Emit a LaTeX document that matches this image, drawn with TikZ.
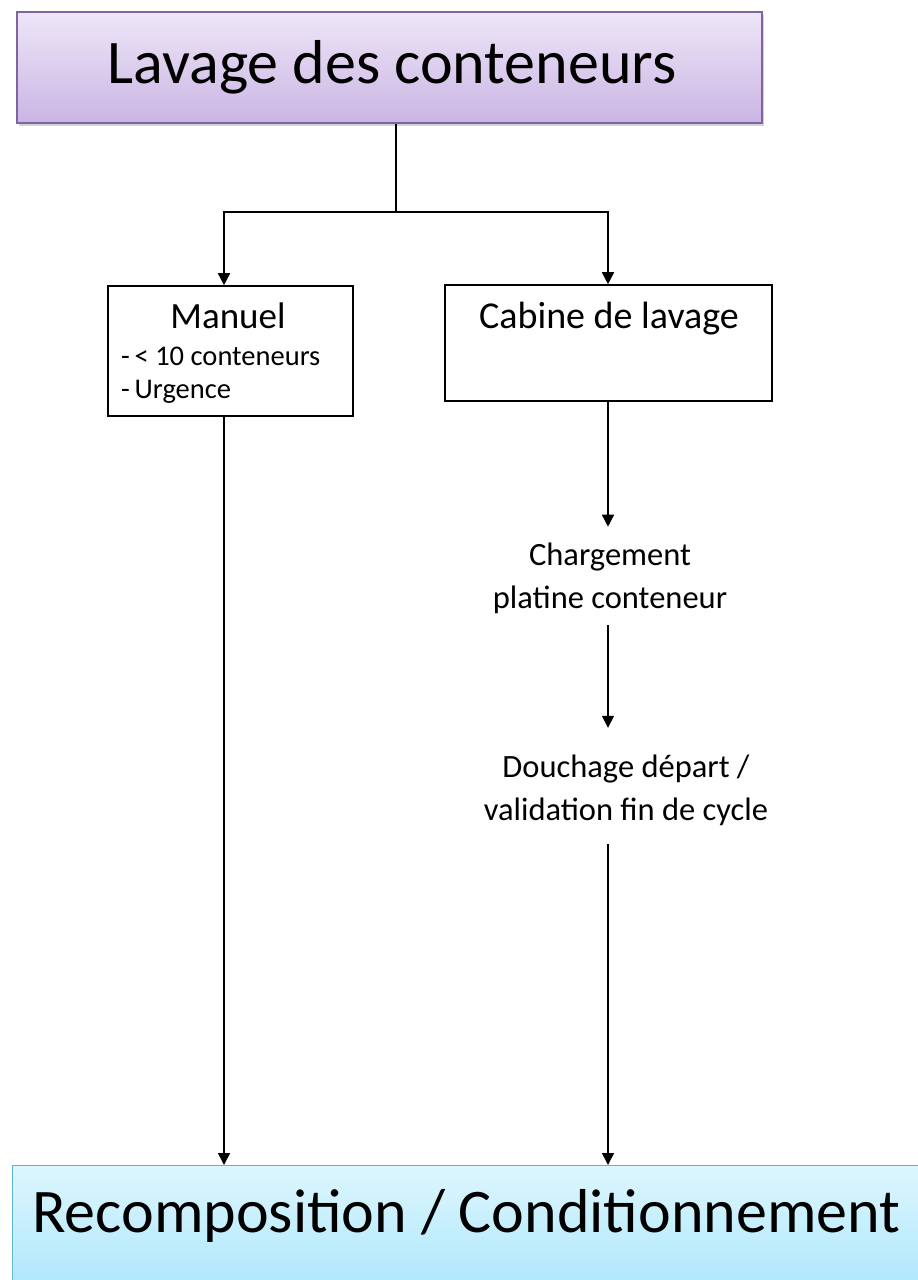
\documentclass[tikz,border=0pt]{standalone}
\usepackage{fontspec}
\setmainfont{Carlito}
\usetikzlibrary{arrows.meta,shadows}
\definecolor{lavtop}{HTML}{EDE6F7}
\definecolor{lavbot}{HTML}{CBB5E4}
\definecolor{lavedge}{HTML}{8064A2}
\definecolor{recotop}{HTML}{DDF6FE}
\definecolor{recobot}{HTML}{A4E4FB}
\definecolor{recoedge}{HTML}{5DB6CF}
\tikzset{
  box/.style={draw=black, line width=1.6pt, fill=white, inner sep=0pt},
  lavbox/.style={draw=lavedge, line width=1.4pt, top color=lavtop, bottom color=lavbot,
    drop shadow={opacity=0.35, shadow xshift=1.5pt, shadow yshift=-3pt}, inner sep=0pt},
  recobox/.style={draw=recoedge, line width=1.4pt, top color=recotop, bottom color=recobot, inner sep=0pt},
  label/.style={inner sep=0pt, text=black},
  steptext/.style={label, align=center, font=\fontsize{32.5}{43}\selectfont},
  arr/.style={line width=1.6pt, -{Triangle[length=12pt,width=12pt]}},
  plain/.style={line width=1.6pt}
}
\begin{document}
\begin{tikzpicture}[x=1pt, y=-1pt]
  \useasboundingbox (0,0) rectangle (918,1280);
  \clip (0,0) rectangle (918,1280);

  % column positions of the connectors
  \coordinate (xl) at (224,0);
  \coordinate (xr) at (608,0);
  \coordinate (junc) at (396,212);

  % title box
  \node[lavbox, minimum width=745pt, minimum height=111pt, text height=40pt, text depth=9pt,
        font=\fontsize{62}{70}\selectfont]
    (top) at (389.5,67.5) {\hspace*{5pt}Lavage des conteneurs};

  % manual washing
  \node[box, minimum width=245pt, minimum height=130pt] (man) at (230.5,351) {};
  \node[label, anchor=base, font=\fontsize{37}{44}\selectfont] (mantitle) at (228,328) {Manuel};
  \node[label, anchor=base west, font=\fontsize{28.5}{33}\selectfont] (manl1) at (121,365) {-\,< 10 conteneurs};
  \node[label, anchor=base west, font=\fontsize{28.5}{33}\selectfont] (manl2) at (121,398) {-\,Urgence};

  % washing cabin
  \node[box, minimum width=327pt, minimum height=116pt] (cab) at (608.5,343) {};
  \node[label, anchor=base, font=\fontsize{38}{44}\selectfont] (cabtitle) at (609,328) {Cabine de lavage};

  % cabin steps
  \node[steptext] (charg) at (610,578.3) {Chargement\\ platine conteneur};
  \node[steptext] (douch) at (626,790.4) {Douchage départ /\\ validation fin de cycle};

  % final step
  \node[recobox, anchor=north west, minimum width=940pt, minimum height=150pt] (reco) at (12,1165) {};
  \node[label, anchor=base west, font=\fontsize{62}{70}\selectfont] (recotxt) at (32,1232)
    {Recomposition / Conditionnement};

  % connectors
  \draw[plain] (top.south -| junc) -- (junc);
  \draw[arr] (junc) -| (man.north -| xl);
  \draw[arr] (junc) -| (cab.north -| xr);
  \draw[arr] (man.south -| xl) -- (reco.north -| xl);
  \draw[arr, shorten >=16pt] (cab.south -| xr) -- (charg.north -| xr);
  \draw[arr, shorten <=11pt, shorten >=27pt] (charg.south -| xr) -- (douch.north -| xr);
  \draw[arr, shorten <=18pt] (douch.south -| xr) -- (reco.north -| xr);
\end{tikzpicture}
\end{document}
